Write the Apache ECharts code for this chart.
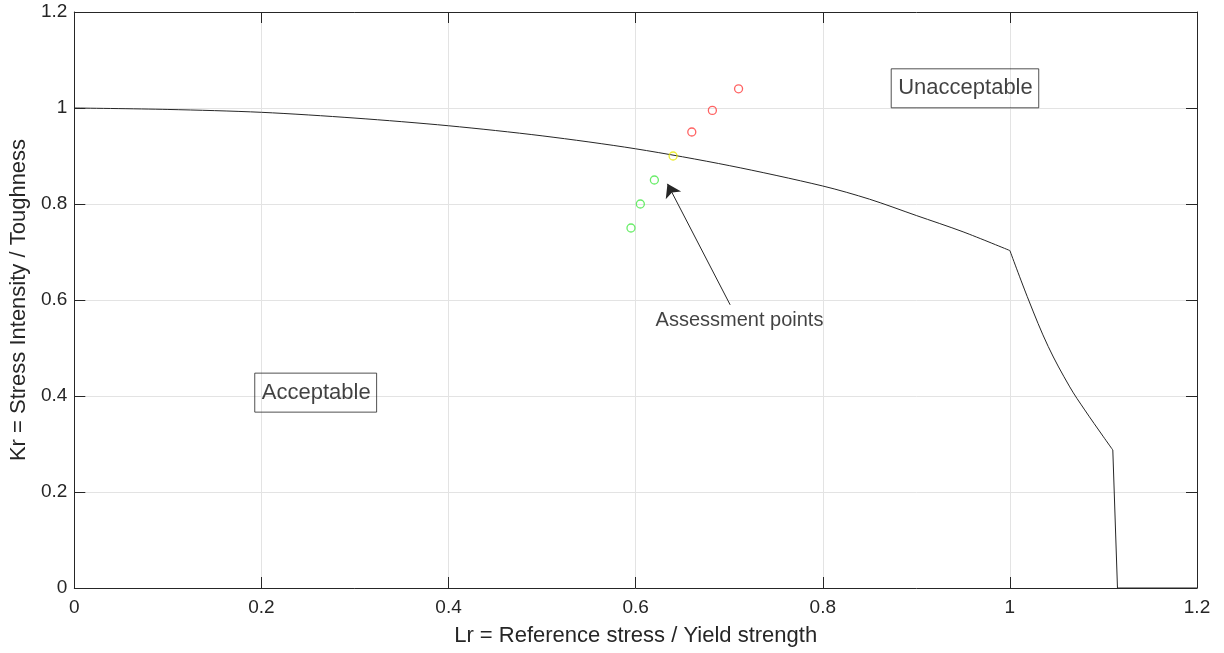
<!DOCTYPE html>
<html>
<head>
<meta charset="utf-8">
<script src="https://cdn.jsdelivr.net/npm/echarts@6/dist/echarts.min.js"></script>
<style>
html,body{margin:0;padding:0;background:#fff;}
#main{width:1224px;height:653px;}
</style>
</head>
<body>
<div id="main"></div>
<script>
// failure assessment line (three pieces)
var lrMain = [0, 0.1, 0.2, 0.3, 0.4, 0.5, 0.6, 0.7, 0.8, 0.85, 0.9, 0.95, 1.0];
var krMain = [1.0, 0.997, 0.991, 0.979, 0.963, 0.942, 0.915, 0.88, 0.8375, 0.81, 0.776, 0.742, 0.703];
var lrCut = [1.0, 1.02, 1.041, 1.064, 1.08, 1.1, 1.11];
var krCut = [0.703, 0.6, 0.503, 0.419, 0.371, 0.315, 0.2875];
var lrDrop = [1.11, 1.115, 1.2];
var krDrop = [0.2875, 0, 0];

// assessment points
var ptLr = [0.595, 0.605, 0.62, 0.64, 0.66, 0.682, 0.71];
var ptKr = [0.75, 0.80, 0.85, 0.90, 0.95, 0.995, 1.04];
var ptColor = ['#44e844', '#44e844', '#44e844', '#e6e600', '#ff3b3b', '#ff3b3b', '#ff3b3b'];

// text annotations
var boxText = ['Acceptable', 'Unacceptable'];
var boxLr = [0.258, 0.952];
var boxKr = [0.407, 1.041];
var noteText = 'Assessment points';
var noteAt = [0.711, 0.558];
var arrowFrom = [0.701, 0.59];
var arrowTo = [0.634, 0.842];

var xTicks = [0, 0.2, 0.4, 0.6, 0.8, 1, 1.2];
var yTicks = [0, 0.2, 0.4, 0.6, 0.8, 1, 1.2];

var font = 'Liberation Sans, Arial, Helvetica, sans-serif';
var ink = '#262626';

(function(){
  var myChart = echarts.init(document.getElementById('main'));

  function pairs(xs, ys){ return xs.map(function(v, i){ return [v, ys[i]]; }); }
  var ptData = ptLr.map(function(v, i){
    return { value: [v, ptKr[i]], itemStyle: { borderColor: ptColor[i] } };
  });
  var boxData = boxText.map(function(t, i){ return { name: t, value: [boxLr[i], boxKr[i]] }; });

  function fmt(v){ return String(Math.round(v * 10) / 10); }

  var baseX = {
    type: 'value', min: 0, max: 1.2, interval: 0.2,
    axisLine: { show: true, onZero: false, lineStyle: { color: ink, width: 1 } },
    axisTick: { show: true, inside: true, length: 11, lineStyle: { color: ink } },
    splitLine: { show: false }
  };

  function curve(d, smooth){
    return {
      type: 'line', data: d, symbol: 'none', showSymbol: false,
      smooth: smooth,
      lineStyle: { color: ink, width: 1 }, z: 3
    };
  }

  var mainCurve = curve(pairs(lrMain, krMain), 0.3);
  mainCurve.markLine = {
    silent: true,
    symbol: ['none', 'arrow'],
    symbolSize: 13,
    lineStyle: { color: ink, width: 1, type: 'solid' },
    itemStyle: { color: '#000' },
    label: { show: false },
    data: [[{ coord: arrowFrom }, { coord: arrowTo }]]
  };

  var option = {
    animation: false,
    backgroundColor: '#fff',
    textStyle: { fontFamily: font },
    grid: { left: 73, right: 27, top: 12, bottom: 65, containLabel: false },
    xAxis: [
      Object.assign({}, baseX, {
        position: 'bottom',
        name: 'Lr = Reference stress / Yield strength',
        nameLocation: 'middle', nameGap: 37,
        nameTextStyle: { color: ink, fontSize: 22, fontFamily: font },
        axisLabel: { color: ink, fontSize: 19, margin: 10, fontFamily: font,
          formatter: function(v){ return xTicks.indexOf(Math.round(v*10)/10) >= 0 ? fmt(v) : ''; } },
        splitLine: { show: true, lineStyle: { color: '#e3e3e3', width: 1 } }
      }),
      Object.assign({}, baseX, { position: 'top', axisLabel: { show: false } })
    ],
    yAxis: [
      Object.assign({}, baseX, {
        position: 'left',
        name: 'Kr = Stress Intensity / Toughness',
        nameLocation: 'middle', nameGap: 32,
        nameTextStyle: { color: ink, fontSize: 22, fontFamily: font },
        axisLabel: { color: ink, fontSize: 19, margin: 7, fontFamily: font,
          formatter: function(v){ return yTicks.indexOf(Math.round(v*10)/10) >= 0 ? fmt(v) : ''; } },
        splitLine: { show: true, lineStyle: { color: '#e3e3e3', width: 1 } }
      }),
      Object.assign({}, baseX, { position: 'right', axisLabel: { show: false } })
    ],
    series: [
      mainCurve,
      curve(pairs(lrCut, krCut), 0.35),
      curve(pairs(lrDrop, krDrop), false),
      {
        type: 'scatter',
        data: ptData,
        symbol: 'circle',
        symbolSize: 8,
        itemStyle: { color: 'rgba(0,0,0,0)', borderWidth: 1.3 },
        z: 5
      },
      {
        type: 'scatter',
        data: boxData,
        symbolSize: 0,
        silent: true,
        label: {
          show: true, position: 'inside',
          formatter: function(p){ return p.name; },
          color: '#111', fontSize: 22, fontFamily: font,
          borderColor: ink, borderWidth: 1, padding: [9, 6, 8, 7]
        },
        z: 6
      },
      {
        type: 'scatter',
        data: [{ name: noteText, value: noteAt }],
        symbolSize: 0,
        silent: true,
        label: {
          show: true, position: 'inside',
          formatter: function(p){ return p.name; },
          color: '#111', fontSize: 20, fontFamily: font
        },
        z: 6
      }
    ]
  };

  myChart.setOption(option);
  window.addEventListener('resize', function(){ myChart.resize(); });
})();
</script>
</body>
</html>
